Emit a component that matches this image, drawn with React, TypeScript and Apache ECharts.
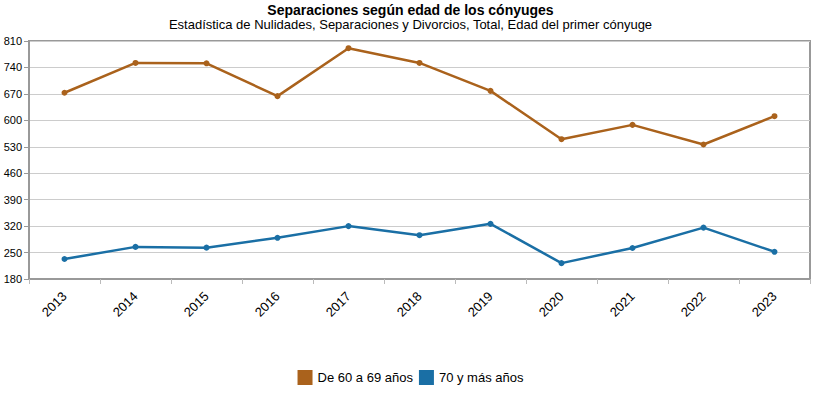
import React, { useEffect, useRef } from "react";
import * as echarts from "echarts";

const years = ["2013", "2014", "2015", "2016", "2017", "2018", "2019", "2020", "2021", "2022", "2023"];
const seriesA = [673, 752, 751, 664, 791, 752, 678, 550, 588, 536, 611];
const seriesB = [233, 265, 263, 289, 320, 296, 326, 222, 262, 316, 252];
const nameA = "De 60 a 69 años";
const nameB = "70 y más años";
const title = "Separaciones según edad de los cónyuges";
const subtitle = "Estadística de Nulidades, Separaciones y Divorcios, Total, Edad del primer cónyuge";

const colorA = "#AA621C";
const colorB = "#1A6FA5";
const font = "Liberation Sans, Arial, sans-serif";

export default function App() {
  const ref = useRef<HTMLDivElement>(null);
  useEffect(() => {
    const chart = echarts.init(ref.current!, null, { renderer: "svg" });
    chart.setOption({
      animation: false,
      textStyle: { fontFamily: font },
      title: {
        text: title,
        subtext: subtitle,
        left: "center",
        top: 2,
        padding: [0, 5],
        itemGap: 0,
        textStyle: { fontSize: 14, fontWeight: "bold", color: "#000", fontFamily: font, lineHeight: 15 },
        subtextStyle: { fontSize: 13, color: "#000", fontFamily: font, lineHeight: 15 },
      },
      legend: {
        bottom: 9,
        left: "center",
        icon: "rect",
        itemWidth: 15,
        itemHeight: 15,
        itemGap: 6,
        textStyle: { fontSize: 13, color: "#000", fontFamily: font },
        data: [nameA, nameB],
      },
      grid: {
        left: 29,
        right: 11,
        top: 41,
        bottom: 120,
        show: true,
        borderColor: "#999",
        borderWidth: 2,
        containLabel: false,
      },
      xAxis: {
        type: "category",
        data: years,
        boundaryGap: true,
        axisLine: { lineStyle: { color: "#999", width: 2 } },
        axisTick: { show: true, length: 5, lineStyle: { color: "#bbb" } },
        axisLabel: { rotate: 45, fontSize: 13, color: "#000", margin: 15, fontFamily: font },
      },
      yAxis: {
        type: "value",
        min: 180,
        max: 810,
        interval: 70,
        axisLine: { show: true, lineStyle: { color: "#999", width: 2 } },
        axisTick: { show: true, length: 5, lineStyle: { color: "#999" } },
        axisLabel: { fontSize: 11, color: "#000", margin: 7, fontFamily: font },
        splitLine: { lineStyle: { color: "#ccc" } },
      },
      series: [
        {
          name: nameA,
          type: "line",
          data: seriesA,
          symbol: "circle",
          symbolSize: 6,
          itemStyle: { color: colorA },
          lineStyle: { color: colorA, width: 2.5 },
        },
        {
          name: nameB,
          type: "line",
          data: seriesB,
          symbol: "circle",
          symbolSize: 6,
          itemStyle: { color: colorB },
          lineStyle: { color: colorB, width: 2.5 },
        },
      ],
    });
    return () => chart.dispose();
  }, []);
  return <div ref={ref} style={{ width: 821, height: 399, position: "absolute", left: 0, top: 0 }} />;
}
